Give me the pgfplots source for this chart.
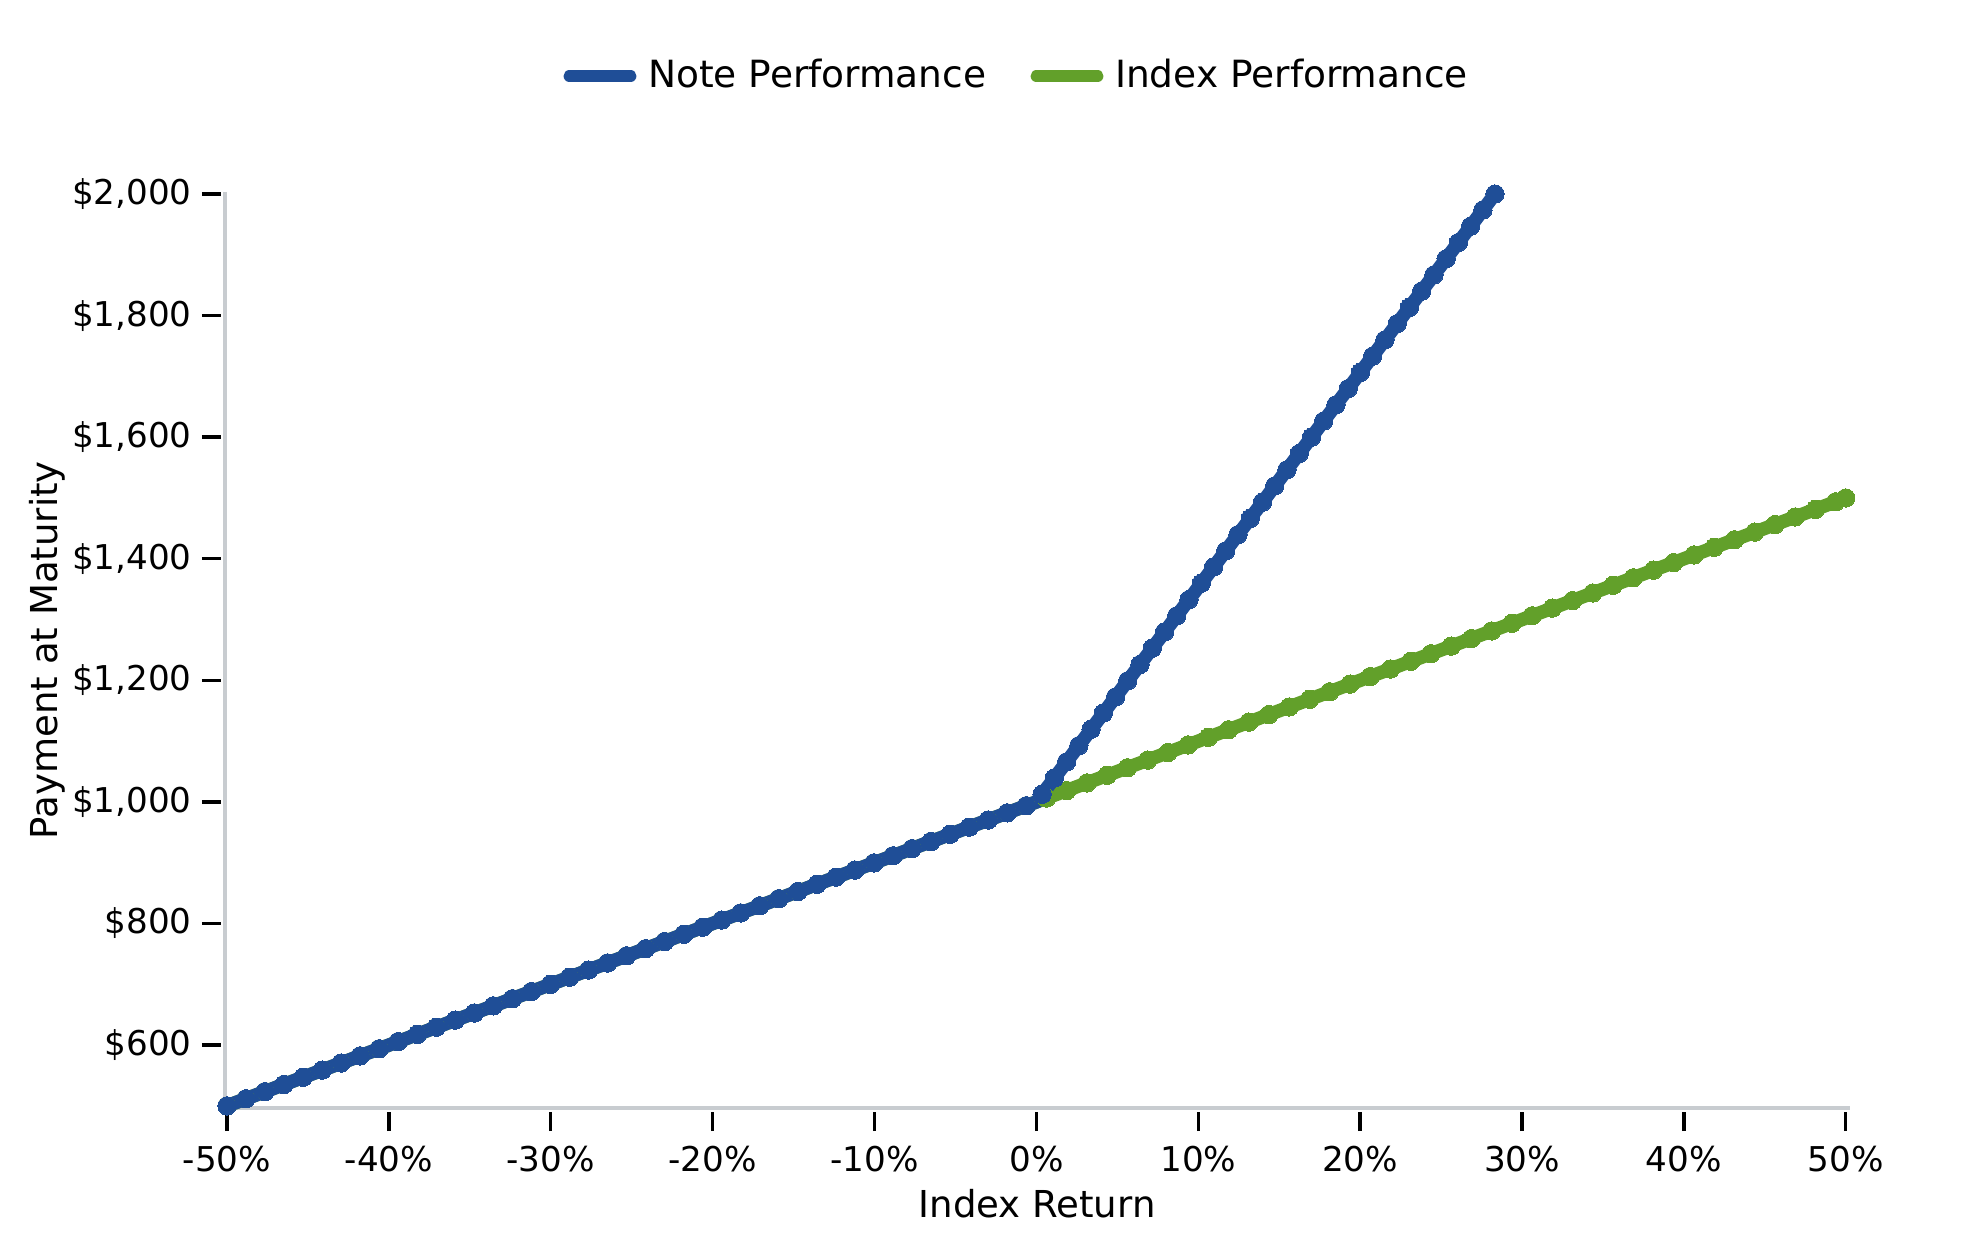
\documentclass[border=0pt]{standalone}
\usepackage{pgfplots}
\pgfplotsset{compat=1.18}
\usepackage{fontspec}
\setmainfont{DejaVu Sans}
\definecolor{noteblue}{RGB}{31,78,151}
\definecolor{idxgreen}{RGB}{98,160,42}
\definecolor{spinegray}{RGB}{200,204,208}
\begin{document}
\begin{tikzpicture}[x=1pt,y=1pt]
\useasboundingbox (0,0) rectangle (475,300);
\begin{axis}[
  at={(53.04pt,33.12pt)}, anchor=south west,
  scale only axis, width=390.96pt, height=220.8pt,
  xmin=-50.37, xmax=50.25, ymin=490.13, ymax=2003.3,
  clip=false,
  axis line style={draw=none},
  tick align=outside,
  major tick length=4.6pt,
  tick style={black, line width=0.8pt},
  xtick={-50,-40,...,50},
  xticklabels={-50\%,-40\%,-30\%,-20\%,-10\%,0\%,10\%,20\%,30\%,40\%,50\%},
  ytick={600,800,...,2000},
  yticklabels={\$600,\$800,\$1{,}000,\$1{,}200,\$1{,}400,\$1{,}600,\$1{,}800,\$2{,}000},
  xtick pos=bottom, ytick pos=left,
  tick label style={font=\fontsize{8.2}{9}\selectfont},
  yticklabel style={xshift=1.1pt},
  label style={font=\fontsize{8.9}{10}\selectfont},
  xlabel={Index Return},
  ylabel={Payment at Maturity},
  xlabel style={at={(axis description cs:0.501,-0.1)}, anchor=center},
  ylabel style={at={(axis description cs:-0.1068,0.502)}, anchor=center, rotate=0},
  legend style={at={(0.4915,1.126)}, anchor=center, draw=none, fill=none,
    legend columns=2, font=\fontsize{9.0}{10}\selectfont,
    /tikz/every even column/.append style={column sep=7.8pt},
    nodes={inner xsep=2.8pt, inner ysep=0pt}},
  legend image code/.code={\draw[#1, line cap=round] (1.2pt,0pt) -- (16pt,0pt);},
]
\draw[spinegray, line width=0.96pt] (axis cs:-50.12,2003.3) -- (axis cs:-50.12,496.7) -- (axis cs:50.25,496.7);

\addlegendimage{noteblue, line width=2.7pt}
\addlegendentry{Note Performance}
\addlegendimage{idxgreen, line width=2.7pt}
\addlegendentry{Index Performance}

% Index Performance
\addplot[forget plot, idxgreen, line width=3.25pt, mark=*, mark size=2.2pt, mark options={line width=0pt, fill=idxgreen}] coordinates {
(-50,500) (-48.824,511.76) (-47.649,523.51) (-46.473,535.27) (-45.298,547.02) (-44.122,558.78)
(-42.946,570.54) (-41.771,582.29) (-40.595,594.05) (-39.420,605.80) (-38.244,617.56) (-37.068,629.32)
(-35.893,641.07) (-34.717,652.83) (-33.542,664.58) (-32.366,676.34) (-31.190,688.10) (-30.015,699.85)
(-28.839,711.61) (-27.664,723.36) (-26.488,735.12) (-25.312,746.88) (-24.137,758.63) (-22.961,770.39)
(-21.786,782.14) (-20.610,793.90) (-19.434,805.66) (-18.259,817.41) (-17.083,829.17) (-15.908,840.92)
(-14.732,852.68) (-13.556,864.44) (-12.381,876.19) (-11.205,887.95) (-10.030,899.70) (-8.854,911.46)
(-7.678,923.22) (-6.503,934.97) (-5.327,946.73) (-4.152,958.48) (-2.976,970.24) (-1.800,982.00)
(-0.625,993.75)
(0.625,1006.25) (1.875,1018.75) (3.125,1031.25) (4.375,1043.75) (5.625,1056.25) (6.875,1068.75) (8.125,1081.25) (9.375,1093.75)
(10.625,1106.25) (11.875,1118.75) (13.125,1131.25) (14.375,1143.75) (15.625,1156.25) (16.875,1168.75) (18.125,1181.25) (19.375,1193.75)
(20.625,1206.25) (21.875,1218.75) (23.125,1231.25) (24.375,1243.75) (25.625,1256.25) (26.875,1268.75) (28.125,1281.25) (29.375,1293.75)
(30.625,1306.25) (31.875,1318.75) (33.125,1331.25) (34.375,1343.75) (35.625,1356.25) (36.875,1368.75) (38.125,1381.25) (39.375,1393.75)
(40.625,1406.25) (41.875,1418.75) (43.125,1431.25) (44.375,1443.75) (45.625,1456.25) (46.875,1468.75) (48.125,1481.25) (49.375,1493.75)
(50,1500)
};
% Note Performance line
\addplot[forget plot, noteblue, line width=3.25pt, no marks] coordinates {
(-50,500) (0,1000) (28.33,2000)
};
% Note Performance markers
\addplot[forget plot, only marks, mark=*, mark size=2.2pt, mark options={line width=0pt, fill=noteblue, draw=noteblue}] coordinates {
(-50,500) (-48.824,511.76) (-47.649,523.51) (-46.473,535.27) (-45.298,547.02) (-44.122,558.78)
(-42.946,570.54) (-41.771,582.29) (-40.595,594.05) (-39.420,605.80) (-38.244,617.56) (-37.068,629.32)
(-35.893,641.07) (-34.717,652.83) (-33.542,664.58) (-32.366,676.34) (-31.190,688.10) (-30.015,699.85)
(-28.839,711.61) (-27.664,723.36) (-26.488,735.12) (-25.312,746.88) (-24.137,758.63) (-22.961,770.39)
(-21.786,782.14) (-20.610,793.90) (-19.434,805.66) (-18.259,817.41) (-17.083,829.17) (-15.908,840.92)
(-14.732,852.68) (-13.556,864.44) (-12.381,876.19) (-11.205,887.95) (-10.030,899.70) (-8.854,911.46)
(-7.678,923.22) (-6.503,934.97) (-5.327,946.73) (-4.152,958.48) (-2.976,970.24) (-1.800,982.00)
(-0.625,993.75)
(0.354,1012.5) (1.110,1039.2) (1.867,1065.9) (2.623,1092.6) (3.379,1119.3) (4.136,1146.0)
(4.892,1172.7) (5.648,1199.4) (6.404,1226.1) (7.161,1252.8) (7.917,1279.5) (8.673,1306.2)
(9.430,1332.9) (10.186,1359.6) (10.942,1386.3) (11.699,1413.0) (12.455,1439.7) (13.211,1466.3)
(13.967,1493.0) (14.724,1519.8) (15.480,1546.4) (16.236,1573.1) (16.993,1599.8) (17.749,1626.5)
(18.505,1653.2) (19.262,1679.9) (20.018,1706.6) (20.774,1733.3) (21.530,1760.0) (22.287,1786.7)
(23.043,1813.4) (23.799,1840.1) (24.556,1866.8) (25.312,1893.5) (26.068,1920.2) (26.824,1946.9)
(27.581,1973.6) (28.33,2000)
};
\end{axis}
\end{tikzpicture}
\end{document}
